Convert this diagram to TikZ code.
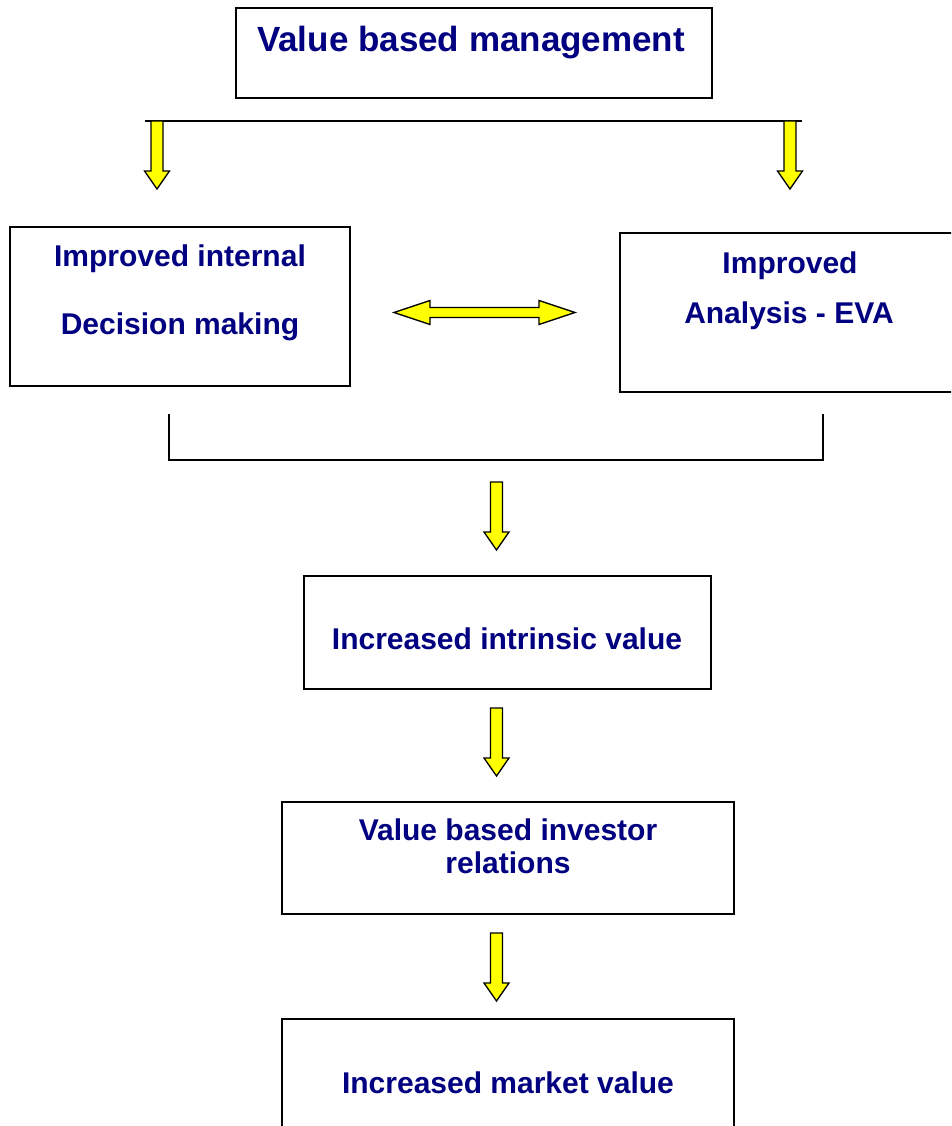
\documentclass[tikz,border=0pt]{standalone}
\usepackage{fontspec}
\setmainfont{Liberation Sans}
\definecolor{navytext}{RGB}{0,0,128}
\definecolor{arrowyellow}{RGB}{255,255,0}
\tikzset{
  box/.style={draw=black, line width=1.5pt, fill=white, rectangle, inner sep=0pt},
  lbl/.style={text=navytext, font=\bfseries\fontsize{30}{33}\selectfont, anchor=base, inner sep=0pt},
  biglbl/.style={lbl, font=\bfseries\fontsize{35}{40}\selectfont},
  blk/.style={draw=black, line width=1.3pt, fill=arrowyellow, line join=miter},
  bar/.style={draw=black, line width=1.5pt},
  pics/downblock/.style={code={
    \draw[blk] (-6,0) -- (6,0) -- (6,50) -- (12.5,50) -- (0,68) -- (-12.5,50) -- (-6,50) -- cycle;}},
  pics/twinblock/.style={code={
    \draw[blk] (0,0) -- (36,-12) -- (36,-5) -- (145,-5) -- (145,-12) -- (181,0)
      -- (145,12) -- (145,5) -- (36,5) -- (36,12) -- cycle;}},
}
\begin{document}
\begin{tikzpicture}[x=1pt,y=-1pt]
\clip (0,0) rectangle (951,1126);
\fill[white] (0,0) rectangle (951,1126);

% boxes
\node[box, minimum width=476, minimum height=90] (vbm) at (474,53) {};
\node[box, minimum width=340, minimum height=159] (internal) at (180,306.5) {};
\node[box, minimum width=370, minimum height=159] (analysis) at (805,312.5) {};
\node[box, minimum width=407, minimum height=113] (intrinsic) at (507.5,632.5) {};
\node[box, minimum width=452, minimum height=112] (investor) at (508,858) {};
\node[box, minimum width=452, minimum height=121] (market) at (508,1079.5) {};

% texts
\node[biglbl] (t1) at (471,52) {Value based management};
\node[lbl] (t2a) at (180,266.7) {Improved internal};
\node[lbl] (t2b) at (180,334.3) {Decision making};
\node[lbl] (t3a) at (790,273) {Improved};
\node[lbl] (t3b) at (789,323) {Analysis - EVA};
\node[lbl] (t4) at (507,649) {Increased intrinsic value};
\node[lbl] (t5a) at (508,840) {Value based investor};
\node[lbl] (t5b) at (508,873) {relations};
\node[lbl] (t6) at (508,1093) {Increased market value};

% connectors
\coordinate (barL) at (145,121);
\coordinate (barR) at (802,121);
\draw[bar] (barL) -- (barR);
\coordinate (dl) at (157,121);
\coordinate (dr) at (790,121);
\pic at (dl) {downblock};
\pic at (dr) {downblock};

\coordinate (twinL) at (394,312.5);
\pic at (twinL) {twinblock};

\coordinate (brL) at (169,414);
\coordinate (brR) at (823,414);
\draw[bar] (brL) -- (169,460) -- (823,460) -- (brR);

\coordinate (d3) at (496.5,482);
\coordinate (d4) at (496.5,708);
\coordinate (d5) at (496.5,933);
\pic at (d3) {downblock};
\pic at (d4) {downblock};
\pic at (d5) {downblock};
\end{tikzpicture}
\end{document}
